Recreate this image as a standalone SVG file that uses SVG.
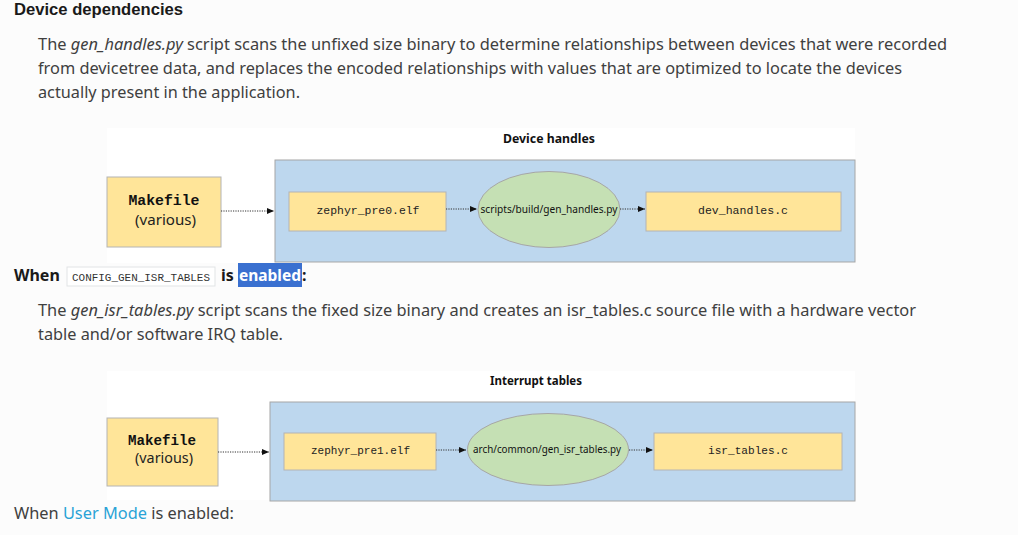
<svg xmlns="http://www.w3.org/2000/svg" width="1018" height="535" viewBox="0 0 1018 535">
<style>
.pg{font-family:"Noto Sans","Open Sans","Liberation Sans",sans-serif;font-size:16px;fill:#404040}
.hd{font-family:"Noto Sans","Open Sans","Liberation Sans",sans-serif;font-size:16px;font-weight:bold;fill:#1a1a1a}
.nd{fill:#ffe599;stroke:#b4b4b4;stroke-width:1}
.cl{fill:#bdd7ee;stroke:#a6a6a6;stroke-width:1}
.el{fill:#c5e0b4;stroke:#a6a6a6;stroke-width:1}
.mono{font-family:"Liberation Mono","DejaVu Sans Mono",monospace;font-size:11.5px;fill:#222}
.mk{font-family:"Liberation Mono","DejaVu Sans Mono",monospace;font-size:14px;font-weight:bold;fill:#111}
.sn{font-family:"Noto Sans","Open Sans","Liberation Sans",sans-serif;font-size:14px;fill:#222}
.es{font-family:"Noto Sans","Open Sans","Liberation Sans",sans-serif;font-size:11.5px;fill:#111}
.tt{font-family:"Noto Sans","Open Sans","Liberation Sans",sans-serif;font-size:12.5px;font-weight:bold;fill:#111}
.ar{stroke:#333;stroke-width:1;stroke-dasharray:1.2,1.2;fill:none;marker-end:url(#ah)}
</style>
<defs>
<marker id="ah" markerWidth="8" markerHeight="8" refX="7" refY="4" orient="auto" markerUnits="userSpaceOnUse">
<path d="M0,1 L7,4 L0,7 Z" fill="#111"/>
</marker>
</defs>
<rect x="0" y="0" width="1018" height="535" fill="#fcfcfc"/>

<text x="14" y="14.5" font-family="'Liberation Sans',Arial,sans-serif" font-size="16px" font-weight="bold" fill="#1a1a1a" textLength="169" lengthAdjust="spacingAndGlyphs">Device dependencies</text>
<text class="pg" x="38" y="50" textLength="909" lengthAdjust="spacingAndGlyphs">The <tspan font-style="italic">gen_handles.py</tspan> script scans the unfixed size binary to determine relationships between devices that were recorded</text>
<text class="pg" x="38" y="74" textLength="864" lengthAdjust="spacingAndGlyphs">from devicetree data, and replaces the encoded relationships with values that are optimized to locate the devices</text>
<text class="pg" x="38" y="98" textLength="262" lengthAdjust="spacingAndGlyphs">actually present in the application.</text>

<g id="diagram1">
<rect x="107" y="128" width="748" height="135" fill="#ffffff"/>
<text class="tt" x="549" y="143" text-anchor="middle" textLength="92" lengthAdjust="spacingAndGlyphs">Device handles</text>
<g id="cluster1"><rect class="cl" x="275" y="160" width="580" height="102"/></g>
<g id="makefile1">
<rect class="nd" x="107" y="177" width="114" height="70"/>
<text class="mk" x="164" y="205" text-anchor="middle" textLength="71" lengthAdjust="spacingAndGlyphs">Makefile</text>
<text class="sn" x="165.5" y="225" text-anchor="middle" textLength="61" lengthAdjust="spacingAndGlyphs">(various)</text>
</g>
<g id="pre0">
<rect class="nd" x="289" y="192" width="157" height="39"/>
<text class="mono" x="368" y="214" text-anchor="middle" textLength="103" lengthAdjust="spacingAndGlyphs">zephyr_pre0.elf</text>
</g>
<g id="genhandles">
<ellipse class="el" cx="549" cy="209.5" rx="71" ry="38"/>
<text class="es" x="549" y="213" text-anchor="middle" textLength="137" lengthAdjust="spacingAndGlyphs">scripts/build/gen_handles.py</text>
</g>
<g id="devhandles">
<rect class="nd" x="646" y="192" width="195" height="39"/>
<text class="mono" x="743" y="214" text-anchor="middle" textLength="90" lengthAdjust="spacingAndGlyphs">dev_handles.c</text>
</g>
<g id="edges1">
<line class="ar" x1="221" y1="211" x2="274" y2="211"/>
<line class="ar" x1="446" y1="209" x2="477" y2="209"/>
<line class="ar" x1="620" y1="209" x2="645" y2="209"/>
</g>
</g>

<text class="hd" x="14" y="281">When</text>
<rect x="67" y="267" width="148" height="19" fill="#ffffff" stroke="#e1e4e5"/>
<text x="72" y="281" font-family="'Liberation Mono','DejaVu Sans Mono',monospace" font-size="11px" fill="#333" textLength="138" lengthAdjust="spacingAndGlyphs">CONFIG_GEN_ISR_TABLES</text>
<text class="hd" x="221" y="281">is</text>
<rect x="238" y="263" width="64" height="24" fill="#3a70d0"/>
<text class="hd" x="239" y="281" style="fill:#ffffff" textLength="62" lengthAdjust="spacingAndGlyphs">enabled</text>
<text class="hd" x="302" y="281">:</text>

<text class="pg" x="38" y="316" textLength="878" lengthAdjust="spacingAndGlyphs">The <tspan font-style="italic">gen_isr_tables.py</tspan> script scans the fixed size binary and creates an isr_tables.c source file with a hardware vector</text>
<text class="pg" x="38" y="340" textLength="245" lengthAdjust="spacingAndGlyphs">table and/or software IRQ table.</text>

<g id="diagram2">
<rect x="107" y="371" width="748" height="129" fill="#ffffff"/>
<text class="tt" x="536" y="385" text-anchor="middle" textLength="92" lengthAdjust="spacingAndGlyphs">Interrupt tables</text>
<g id="cluster2"><rect class="cl" x="270" y="402" width="585" height="99"/></g>
<g id="makefile2">
<rect class="nd" x="107" y="418" width="111" height="68"/>
<text class="mk" x="162" y="445" text-anchor="middle" textLength="68" lengthAdjust="spacingAndGlyphs">Makefile</text>
<text class="sn" x="164" y="463" text-anchor="middle" textLength="58" lengthAdjust="spacingAndGlyphs">(various)</text>
</g>
<g id="pre1">
<rect class="nd" x="284" y="433" width="152" height="37"/>
<text class="mono" x="360.5" y="454" text-anchor="middle" textLength="99" lengthAdjust="spacingAndGlyphs">zephyr_pre1.elf</text>
</g>
<g id="genisr">
<ellipse class="el" cx="548" cy="449.5" rx="80.5" ry="36"/>
<text class="es" x="547" y="453" text-anchor="middle" textLength="148" lengthAdjust="spacingAndGlyphs">arch/common/gen_isr_tables.py</text>
</g>
<g id="isrtables">
<rect class="nd" x="654" y="433" width="188" height="37"/>
<text class="mono" x="748" y="454" text-anchor="middle" textLength="80" lengthAdjust="spacingAndGlyphs">isr_tables.c</text>
</g>
<g id="edges2">
<line class="ar" x1="218" y1="452" x2="269" y2="452"/>
<line class="ar" x1="436" y1="450" x2="466" y2="450"/>
<line class="ar" x1="629" y1="450" x2="653" y2="450"/>
</g>
</g>

<text class="pg" x="14" y="519" textLength="220" lengthAdjust="spacingAndGlyphs">When <tspan fill="#2aa3d6">User Mode</tspan> is enabled:</text>
</svg>
